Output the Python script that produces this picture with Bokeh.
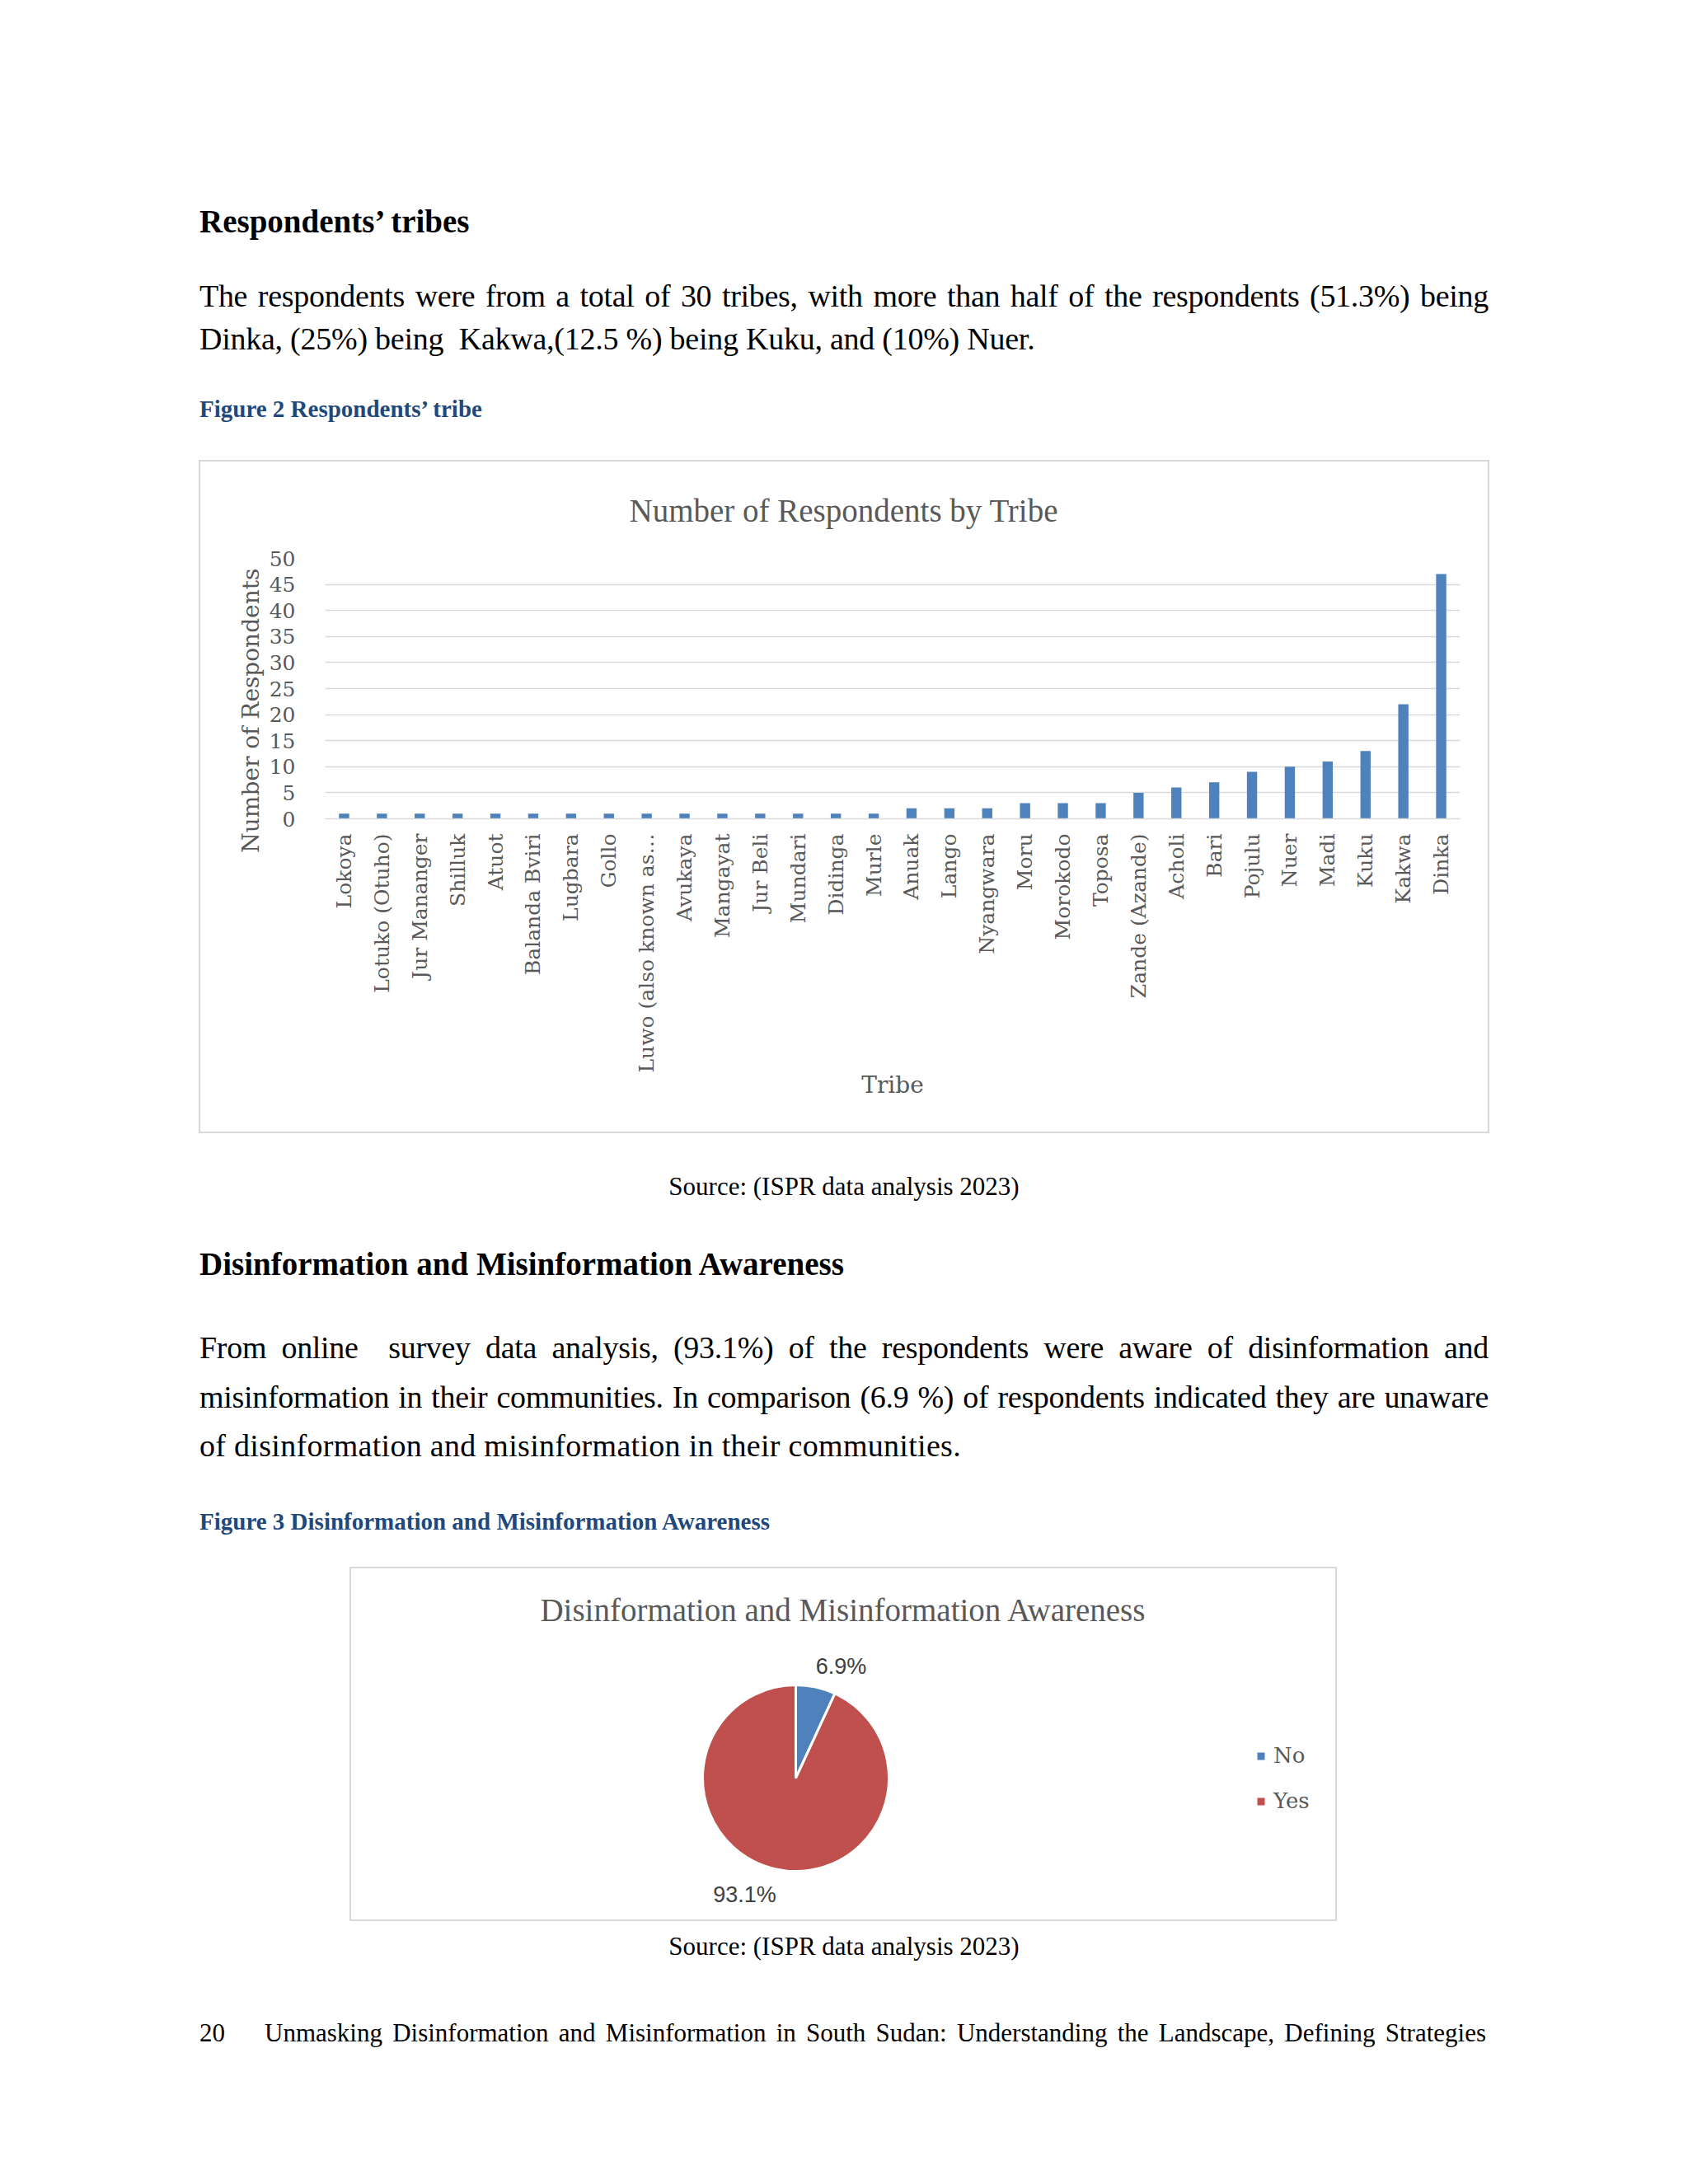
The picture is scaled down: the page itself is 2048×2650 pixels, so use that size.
import math
from bokeh.plotting import figure
from bokeh.models import (Div, Spacer, Range1d, FactorRange, Label, Legend, LegendItem,
                          ColumnDataSource, FixedTicker)
from bokeh.layouts import column, row
from bokeh.embed import file_html
from bokeh.resources import INLINE
from bokeh.core.properties import value

# ---------------- data ----------------
tribes = ["Lokoya", "Lotuko (Otuho)", "Jur Mananger", "Shilluk", "Atuot", "Balanda Bviri",
          "Lugbara", "Gollo", "Luwo (also known as…", "Avukaya", "Mangayat", "Jur Beli",
          "Mundari", "Didinga", "Murle", "Anuak", "Lango", "Nyangwara", "Moru", "Morokodo",
          "Toposa", "Zande (Azande)", "Acholi", "Bari", "Pojulu", "Nuer", "Madi", "Kuku",
          "Kakwa", "Dinka"]
respondents = [1, 1, 1, 1, 1, 1, 1, 1, 1, 1, 1, 1, 1, 1, 1,
               2, 2, 2, 3, 3, 3, 5, 6, 7, 9, 10, 11, 13, 22, 47]
y_ticks = [0, 5, 10, 15, 20, 25, 30, 35, 40, 45, 50]

awareness_labels = ["No", "Yes"]
awareness_pct = [6.9, 93.1]
awareness_colors = ["#4F81BD", "#C0504D"]

# ---------------- page text helpers ----------------
SERIF = "'Liberation Serif', 'Times New Roman', serif"


def line(txt, x, baseline, fs, top0, bold=False, color="#000000", width=None,
         justify=False, center_at=None, ls=0.0):
    top = baseline - 0.8375 * fs - top0
    style = (f"position:absolute;top:{top:.1f}px;font-family:{SERIF};font-size:{fs}px;"
             f"line-height:{fs}px;color:{color};margin:0;padding:0;letter-spacing:{ls}px;")
    if center_at is not None:
        w = 1200
        style += f"left:{center_at - w / 2:.1f}px;width:{w}px;text-align:center;white-space:nowrap;"
    else:
        style += f"left:{x}px;"
        if width:
            style += f"width:{width}px;"
        if justify:
            style += "text-align:justify;text-align-last:justify;"
        else:
            style += "white-space:nowrap;"
    if bold:
        style += "font-weight:bold;"
    return f'<div style="{style}">{txt}</div>'


def region(parts, height):
    inner = "".join(parts)
    html = f'<div style="position:relative;width:2040px;height:{height}px;overflow:visible;">{inner}</div>'
    return Div(text=html, width=2040, height=height, margin=0)


CAP_BLUE = "#1F497D"
BODY = 38
JLS = -0.3

# Region A (page y 0 .. 558)
A0 = 0
div_a = region([
    line("Respondents’ tribes", 242, 281.7, 39, A0, bold=True),
    line("The respondents were from a total of 30 tribes, with more than half of the respondents (51.3%) being",
         242, 371.7, BODY, A0, width=1564, justify=True, ls=JLS),
    line("Dinka, (25%) being&nbsp; Kakwa,(12.5 %) being Kuku, and (10%) Nuer.", 242, 424, BODY, A0, ls=-0.25),
    line("Figure 2 Respondents’ tribe", 242, 506.7, 29, A0, bold=True, color=CAP_BLUE),
], 558)

# Region B (page y 1375 .. 1901)
B0 = 1375
div_b = region([
    line("Source: (ISPR data analysis 2023)", 0, 1450, 31, B0, center_at=1024),
    line("Disinformation and Misinformation Awareness", 242, 1546.7, 39, B0, bold=True),
    line("From online&nbsp; survey data analysis, (93.1%) of the respondents were aware of disinformation and",
         242, 1648, BODY, B0, width=1564, justify=True, ls=JLS),
    line("misinformation in their communities. In comparison (6.9 %) of respondents indicated they are unaware",
         242, 1708, BODY, B0, width=1564, justify=True, ls=JLS),
    line("of disinformation and misinformation in their communities.", 242, 1766.7, BODY, B0, ls=0.3),
    line("Figure 3 Disinformation and Misinformation Awareness", 242, 1856.7, 29, B0, bold=True, color=CAP_BLUE),
], 526)

# Region C (page y 2331 .. 2600)
C0 = 2331
div_c = region([
    line("Source: (ISPR data analysis 2023)", 0, 2371.7, 31, C0, center_at=1024),
    line("20", 242, 2476.7, 31, C0),
    line("Unmasking Disinformation and Misinformation in South Sudan: Understanding the Landscape, Defining Strategies",
         321, 2476.7, 31, C0, width=1482, justify=True),
], 269)

# ---------------- bar chart ----------------
GRAY_TXT = "#595959"
GRID = "#D9D9D9"
BW, BH = 1566, 817

src = ColumnDataSource(dict(tribe=tribes, count=respondents))
p = figure(x_range=FactorRange(factors=tribes), y_range=Range1d(0, 50),
           width=BW, height=BH, output_backend="svg", toolbar_location=None,
           min_border_left=153, min_border_right=36, min_border_top=119, min_border_bottom=382,
           styles={"box-shadow": "inset 0 0 0 2px #D9D9D9", "background-color": "white"})
p.border_fill_alpha = 0
p.vbar(x="tribe", top="count", width=0.27, source=src, fill_color="#4F81BD", line_color=None)

p.outline_line_color = None
p.xgrid.grid_line_color = None
p.ygrid.ticker = FixedTicker(ticks=y_ticks)
p.ygrid.grid_line_color = GRID
p.ygrid.grid_line_width = 1.5

p.yaxis.ticker = FixedTicker(ticks=y_ticks)
p.yaxis.axis_line_color = None
p.yaxis.major_tick_line_color = None
p.yaxis.minor_tick_line_color = None
p.yaxis.major_label_standoff = 30
p.yaxis.major_label_text_font = "DejaVu Serif"
p.yaxis.major_label_text_font_size = "25px"
p.yaxis.major_label_text_color = GRAY_TXT
# trailing no-break spaces nudge the centred label slightly downward, as in the original
p.yaxis.axis_label = "Number of Respondents" + "\u00a0" * 6
p.yaxis.axis_label_text_font = "DejaVu Serif"
p.yaxis.axis_label_text_font_size = "28px"
p.yaxis.axis_label_text_font_style = "normal"
p.yaxis.axis_label_text_color = GRAY_TXT
p.yaxis.axis_label_standoff = 3

p.xaxis.axis_line_color = GRID
p.xaxis.axis_line_width = 1.5
p.xaxis.major_tick_line_color = None
p.xaxis.minor_tick_line_color = None
p.xaxis.major_label_orientation = math.pi / 2
p.xaxis.major_label_standoff = 12
p.xaxis.major_label_text_font = "DejaVu Serif"
p.xaxis.major_label_text_font_size = "25px"
p.xaxis.major_label_text_color = GRAY_TXT
p.xaxis.axis_label = "Tribe"
p.xaxis.axis_label_text_font = "DejaVu Serif"
p.xaxis.axis_label_text_font_size = "28px"
p.xaxis.axis_label_text_font_style = "normal"
p.xaxis.axis_label_text_color = GRAY_TXT
p.xaxis.axis_label_standoff = -5

p.title.text = "Number of Respondents by Tribe"
p.title.align = "left"
p.title.offset = 369
p.title.standoff = 73
p.title.text_font = "Liberation Serif"
p.title.text_font_size = "39px"
p.title.text_font_style = "normal"
p.title.text_color = GRAY_TXT

# ---------------- pie chart ----------------
PW, PH = 1198, 430
q = figure(width=PW, height=PH, x_range=Range1d(0, PW), y_range=Range1d(0, PH),
           output_backend="svg", toolbar_location=None, min_border=0,
           x_axis_location=None, y_axis_location=None)
q.grid.grid_line_color = None
q.outline_line_color = GRID
q.outline_line_width = 3

starts, ends = [], []
ang = math.pi / 2
for pct in awareness_pct:
    starts.append(ang)
    ang = ang - pct / 100 * 2 * math.pi
    ends.append(ang)
cx, cy, rad = 541, 174, 113
psrc = ColumnDataSource(dict(label=awareness_labels, start=starts, end=ends,
                             color=awareness_colors,
                             txt=[f"{v}%" for v in awareness_pct],
                             lx=[596, 479], ly=[310, 33]))
wr = q.wedge(x=cx, y=cy, radius=rad, start_angle="start", end_angle="end",
             direction="clock", fill_color="color", line_color="white", line_width=3,
             source=psrc)
q.text(x="lx", y="ly", text="txt", source=psrc, text_align="center", text_baseline="middle",
       text_font=value("Liberation Sans"), text_font_size="27px", text_color="#404040")

q.add_layout(Label(x=PW / 2, y=PH - 52, text="Disinformation and Misinformation Awareness",
                   text_align="center", text_baseline="middle", text_font="Liberation Serif",
                   text_font_size="39px", text_color=GRAY_TXT))

leg = Legend(items=[LegendItem(label=awareness_labels[i], renderers=[wr], index=i)
                    for i in range(len(awareness_labels))],
             location=(1098, 131), orientation="vertical", glyph_width=15, glyph_height=15,
             label_standoff=8, spacing=25, label_height=30, padding=0, margin=0,
             border_line_color=None, background_fill_alpha=0,
             label_text_font="DejaVu Serif", label_text_font_size="26px",
             label_text_color=GRAY_TXT)
q.add_layout(leg)

layout = column(
    div_a,
    row(Spacer(width=241, height=BH), p),
    div_b,
    row(Spacer(width=424, height=PH), q),
    div_c,
)

open("out.html", "w").write(file_html(layout, INLINE))
